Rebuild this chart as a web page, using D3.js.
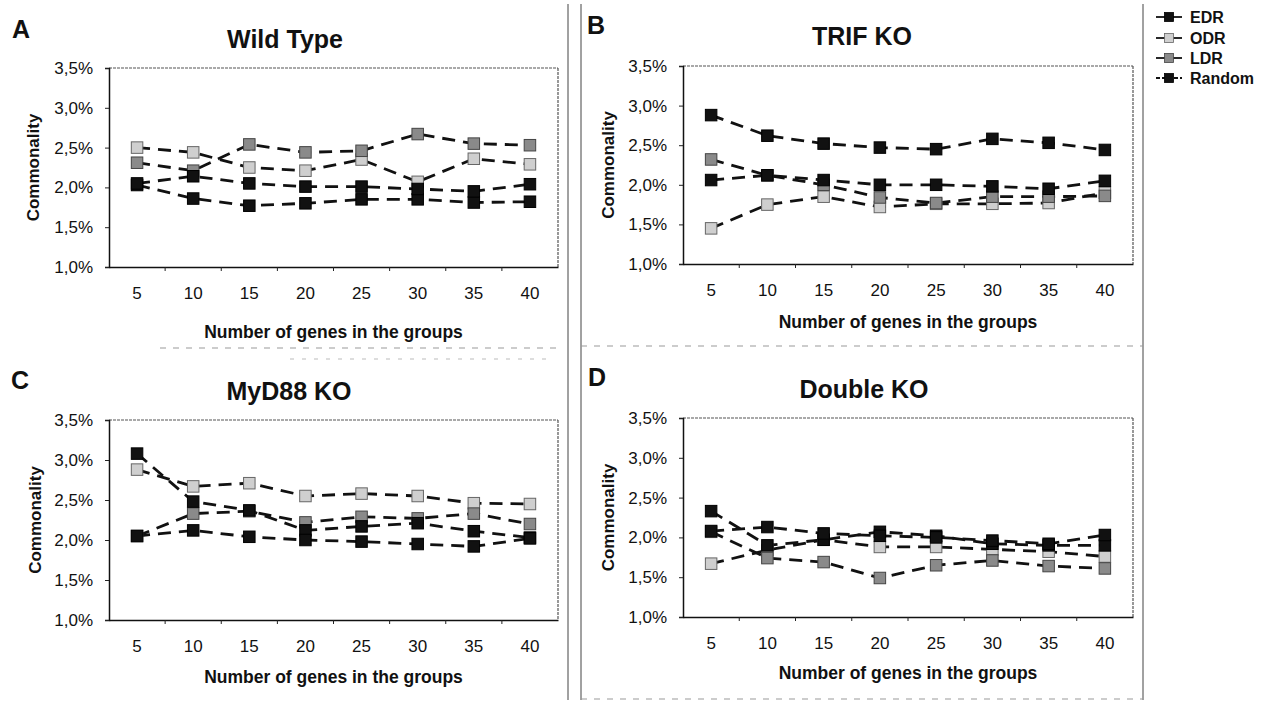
<!DOCTYPE html>
<html>
<head>
<meta charset="utf-8">
<script src="https://cdn.jsdelivr.net/npm/d3@7"></script>
<style>
  html, body { margin: 0; padding: 0; background: #fff; }
  svg { display: block; font-family: "Liberation Sans", Arial, sans-serif; }
</style>
</head>
<body>
<svg id="chart" width="1275" height="702"></svg>
<script>
// ---------------- DATA ----------------
const categories = [5, 10, 15, 20, 25, 30, 35, 40];
const yTickValues = [1.0, 1.5, 2.0, 2.5, 3.0, 3.5];
const seriesNames = ["EDR", "ODR", "LDR", "Random"];

const panelLetters = ["A", "B", "C", "D"];
const panelTitles = ["Wild Type", "TRIF KO", "MyD88 KO", "Double KO"];
const xAxisTitle = "Number of genes in the groups";
const yAxisTitle = "Commonality";

// Wild Type (A)
const wtEDR    = [2.03, 1.86, 1.77, 1.80, 1.85, 1.85, 1.81, 1.82];
const wtODR    = [2.50, 2.44, 2.25, 2.21, 2.35, 2.07, 2.36, 2.29];
const wtLDR    = [2.31, 2.21, 2.54, 2.44, 2.46, 2.67, 2.55, 2.53];
const wtRandom = [2.05, 2.14, 2.05, 2.01, 2.01, 1.98, 1.95, 2.04];

// TRIF KO (B)
const trifEDR    = [2.88, 2.62, 2.52, 2.47, 2.45, 2.58, 2.53, 2.44];
const trifODR    = [1.45, 1.75, 1.85, 1.72, 1.76, 1.76, 1.77, 1.90];
const trifLDR    = [2.32, 2.12, 2.00, 1.84, 1.77, 1.85, 1.85, 1.86];
const trifRandom = [2.06, 2.12, 2.06, 2.00, 2.00, 1.98, 1.95, 2.05];

// MyD88 KO (C)
const myd88EDR    = [3.08, 2.48, 2.37, 2.12, 2.17, 2.21, 2.11, 2.03];
const myd88ODR    = [2.88, 2.67, 2.71, 2.55, 2.58, 2.55, 2.46, 2.45];
const myd88LDR    = [2.05, 2.33, 2.36, 2.22, 2.29, 2.27, 2.33, 2.20];
const myd88Random = [2.05, 2.12, 2.04, 2.00, 1.98, 1.95, 1.92, 2.02];

// Double KO (D)
const dkoEDR    = [2.33, 1.90, 1.97, 2.07, 2.02, 1.92, 1.90, 1.90];
const dkoODR    = [1.67, 1.84, 1.97, 1.88, 1.88, 1.85, 1.82, 1.76];
const dkoLDR    = [2.07, 1.74, 1.69, 1.49, 1.65, 1.71, 1.64, 1.61];
const dkoRandom = [2.08, 2.13, 2.05, 2.02, 2.00, 1.96, 1.92, 2.03];

// ---------------- STYLE / LAYOUT ----------------
const seriesStyle = {
  EDR:    { fill: "#111", stroke: "#000" },
  ODR:    { fill: "#cfcfcf", stroke: "#666" },
  LDR:    { fill: "#8a8a8a", stroke: "#444" },
  Random: { fill: "#111", stroke: "#000" }
};
const drawOrder = ["ODR", "LDR", "EDR", "Random"];

const panels = [
  { data: {EDR: wtEDR, ODR: wtODR, LDR: wtLDR, Random: wtRandom},
    box: {x0: 109, x1: 558, y0: 68, y1: 267},
    title: {x: 285, y: 48}, letter: {x: 21, y: 38}, yTitleX: 33, xTitleY: 338 },
  { data: {EDR: trifEDR, ODR: trifODR, LDR: trifLDR, Random: trifRandom},
    box: {x0: 683, x1: 1133, y0: 66, y1: 264},
    title: {x: 862, y: 45}, letter: {x: 596, y: 34}, yTitleX: 608, xTitleY: 328 },
  { data: {EDR: myd88EDR, ODR: myd88ODR, LDR: myd88LDR, Random: myd88Random},
    box: {x0: 109, x1: 558, y0: 420, y1: 620},
    title: {x: 289, y: 400}, letter: {x: 20, y: 389}, yTitleX: 35, xTitleY: 683 },
  { data: {EDR: dkoEDR, ODR: dkoODR, LDR: dkoLDR, Random: dkoRandom},
    box: {x0: 683, x1: 1133, y0: 418, y1: 617},
    title: {x: 864, y: 398}, letter: {x: 597, y: 386}, yTitleX: 608, xTitleY: 679 }
];

const locale = d3.formatLocale({decimal: ",", thousands: ".", grouping: [3], currency: ["", ""]});
const fmt1 = locale.format(".1f");
const yFmt = v => fmt1(v) + "%";

const svg = d3.select("#chart");

// ---------------- FRAME / SEPARATORS ----------------
const frame = svg.append("g");
[568, 581, 1143].forEach(xx => {
  frame.append("line").attr("x1", xx).attr("x2", xx).attr("y1", 4).attr("y2", 700)
    .attr("stroke", "#444").attr("stroke-width", 1);
});
frame.append("line").attr("x1", 160).attr("x2", 560).attr("y1", 348).attr("y2", 348)
  .attr("stroke", "#999").attr("stroke-width", 1).attr("stroke-dasharray", "6,7");
frame.append("line").attr("x1", 290).attr("x2", 550).attr("y1", 359).attr("y2", 359)
  .attr("stroke", "#bbb").attr("stroke-width", 1).attr("stroke-dasharray", "4,8");
frame.append("line").attr("x1", 581).attr("x2", 1143).attr("y1", 346).attr("y2", 346)
  .attr("stroke", "#999").attr("stroke-width", 1).attr("stroke-dasharray", "6,7");
frame.append("line").attr("x1", 581).attr("x2", 1143).attr("y1", 699).attr("y2", 699)
  .attr("stroke", "#999").attr("stroke-width", 1).attr("stroke-dasharray", "6,7");

// ---------------- PANELS ----------------
panels.forEach((p, i) => {
  const b = p.box;
  const g = svg.append("g");

  const x = d3.scaleBand().domain(categories).range([b.x0, b.x1]).paddingInner(0).paddingOuter(0);
  const y = d3.scaleLinear().domain([1.0, 3.5]).range([b.y1, b.y0]);
  const cx = c => x(c) + x.bandwidth() / 2;

  // plot border (top/right lighter, dotted like the scan)
  g.append("line").attr("x1", b.x0).attr("x2", b.x1).attr("y1", b.y0).attr("y2", b.y0)
    .attr("stroke", "#555").attr("stroke-width", 1.2).attr("stroke-dasharray", "3,1");
  g.append("line").attr("x1", b.x1).attr("x2", b.x1).attr("y1", b.y0).attr("y2", b.y1)
    .attr("stroke", "#555").attr("stroke-width", 1.2).attr("stroke-dasharray", "3,1");

  // y axis
  const yAxis = g.append("g").attr("transform", `translate(${b.x0},0)`)
    .call(d3.axisLeft(y).tickValues(yTickValues).tickFormat(yFmt).tickSize(4).tickPadding(12));
  yAxis.select(".domain").attr("stroke", "#111").attr("stroke-width", 1.5);
  yAxis.selectAll(".tick line").attr("stroke", "#222");
  yAxis.selectAll("text").attr("font-size", 17).attr("fill", "#111");

  // x axis
  const xAxis = g.append("g").attr("transform", `translate(0,${b.y1})`)
    .call(d3.axisBottom(x).tickSize(0).tickPadding(20));
  xAxis.select(".domain").attr("stroke", "#111").attr("stroke-width", 1.6);
  xAxis.selectAll("text").attr("font-size", 17).attr("fill", "#111");
  // category boundary tick marks
  g.selectAll(".bt").data(categories.slice(1)).enter().append("line")
    .attr("x1", c => x(c)).attr("x2", c => x(c))
    .attr("y1", b.y1).attr("y2", b.y1 + 4)
    .attr("stroke", "#222").attr("stroke-width", 1);

  // lines
  const line = d3.line().x((d, k) => cx(categories[k])).y(d => y(d));
  drawOrder.forEach(name => {
    g.append("path").datum(p.data[name])
      .attr("d", line).attr("fill", "none")
      .attr("stroke", "#111").attr("stroke-width", 2.8)
      .attr("stroke-dasharray", "13,8");
  });
  // markers
  const ms = 11.5;
  drawOrder.forEach(name => {
    const st = seriesStyle[name];
    g.selectAll(null).data(p.data[name]).enter().append("rect")
      .attr("x", (d, k) => cx(categories[k]) - ms / 2)
      .attr("y", d => y(d) - ms / 2)
      .attr("width", ms).attr("height", ms)
      .attr("fill", st.fill).attr("stroke", st.stroke).attr("stroke-width", 1);
  });

  // titles
  g.append("text").attr("x", p.title.x).attr("y", p.title.y)
    .attr("text-anchor", "middle").attr("font-size", 25).attr("font-weight", "bold")
    .attr("fill", "#111").text(panelTitles[i]);
  g.append("text").attr("x", p.letter.x).attr("y", p.letter.y)
    .attr("text-anchor", "middle").attr("font-size", 25).attr("font-weight", "bold")
    .attr("fill", "#111").text(panelLetters[i]);
  g.append("text")
    .attr("transform", `translate(${p.yTitleX},${(b.y0 + b.y1) / 2}) rotate(-90)`)
    .attr("text-anchor", "middle").attr("dy", "0.35em")
    .attr("font-size", 17).attr("font-weight", "bold").attr("fill", "#111")
    .text(yAxisTitle);
  g.append("text").attr("x", (b.x0 + b.x1) / 2).attr("y", p.xTitleY)
    .attr("text-anchor", "middle").attr("font-size", 17.5).attr("font-weight", "bold")
    .attr("fill", "#111").text(xAxisTitle);
});

// ---------------- LEGEND ----------------
const legendY = [17, 38, 58, 78];
const leg = svg.append("g");
seriesNames.forEach((name, k) => {
  const st = seriesStyle[name];
  const yy = legendY[k];
  leg.append("line").attr("x1", 1156).attr("x2", 1182).attr("y1", yy).attr("y2", yy)
    .attr("stroke", "#111").attr("stroke-width", 1.8)
    .attr("stroke-dasharray", name === "Random" ? "4,2" : null);
  leg.append("rect").attr("x", 1169 - 4.5).attr("y", yy - 4.5).attr("width", 9).attr("height", 9)
    .attr("fill", st.fill).attr("stroke", st.stroke).attr("stroke-width", 0.8);
  leg.append("text").attr("x", 1190).attr("y", yy).attr("dy", "0.36em")
    .attr("font-size", 16).attr("font-weight", "bold").attr("fill", "#111").text(name);
});
</script>
</body>
</html>
